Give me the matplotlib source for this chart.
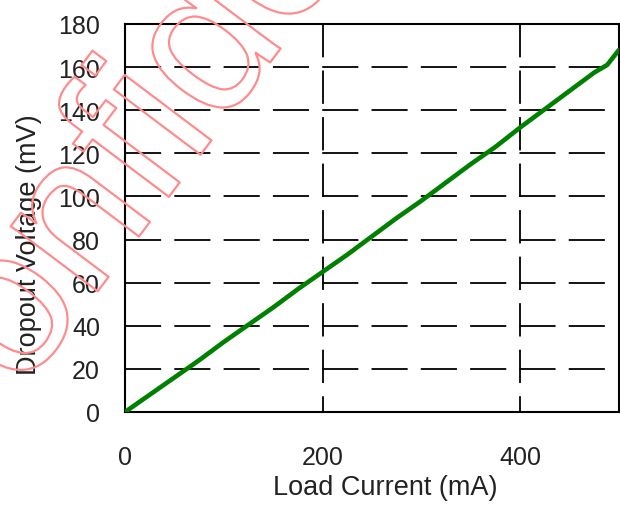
import matplotlib
matplotlib.use("Agg")
import matplotlib.pyplot as plt
import matplotlib.patheffects as pe

# dropout voltage vs load current
load_ma = [0, 25, 50, 75, 100, 125, 150, 175, 200, 225, 250, 275, 300,
           325, 350, 375, 400, 425, 450, 475, 488, 500]
dropout_mv = [0, 8, 16, 24, 32.5, 40.5, 48.5, 57, 65, 73, 81.5, 90, 98,
              106.5, 115, 123, 132, 140.5, 149, 157.5, 161, 168]

x_ticks = [0, 200, 400]
y_ticks = [0, 20, 40, 60, 80, 100, 120, 140, 160, 180]

plt.rcParams["font.family"] = ["Liberation Sans", "DejaVu Sans"]
plt.rcParams["lines.scale_dashes"] = False

fig = plt.figure(figsize=(6.2, 5.06), dpi=100)
ax = fig.add_axes([125 / 620, 93 / 506, 494 / 620, 388 / 506])

ax.set_xlim(0, 500)
ax.set_ylim(0, 180)

dash = (0, (26, 9.5))
for y in y_ticks[1:-1]:
    ax.plot([0, 500], [y, y], color="black", lw=1.3, ls=dash, zorder=1)
for x in x_ticks[1:]:
    # drawn top-down so the dash pattern starts at the upper frame
    ax.plot([x, x], [180, 0], color="black", lw=1.3, ls=(0, (24, 9.5)), zorder=1)

ax.plot(load_ma, dropout_mv, color="#008000", lw=3.3, zorder=3,
        solid_capstyle="round")

for s in ax.spines.values():
    s.set_linewidth(1.5)
    s.set_color("black")

ax.set_xticks(x_ticks)
ax.set_yticks(y_ticks)
ax.tick_params(axis="both", length=0, labelsize=18, colors="#222222")
ax.tick_params(axis="y", pad=18)
ax.tick_params(axis="x", pad=24)

ax.set_xlabel("Load Current (mA)", fontsize=19.5, color="#222222")
ax.set_ylabel("Dropout Voltage (mV)", fontsize=19.5, color="#222222")
ax.xaxis.set_label_coords(0.526, -0.16)
ax.yaxis.set_label_coords(-0.168, 0.433)

# outlined watermark across the left side
wm = fig.text(-69 / 620, -7.5 / 506, "Confidential", fontsize=148,
              rotation=53, rotation_mode="anchor", ha="left", va="baseline",
              color="none", zorder=10)
wm.set_path_effects([pe.Stroke(linewidth=1.6, foreground="#ff8c8c")])

fig.savefig("out.png", dpi=100)
